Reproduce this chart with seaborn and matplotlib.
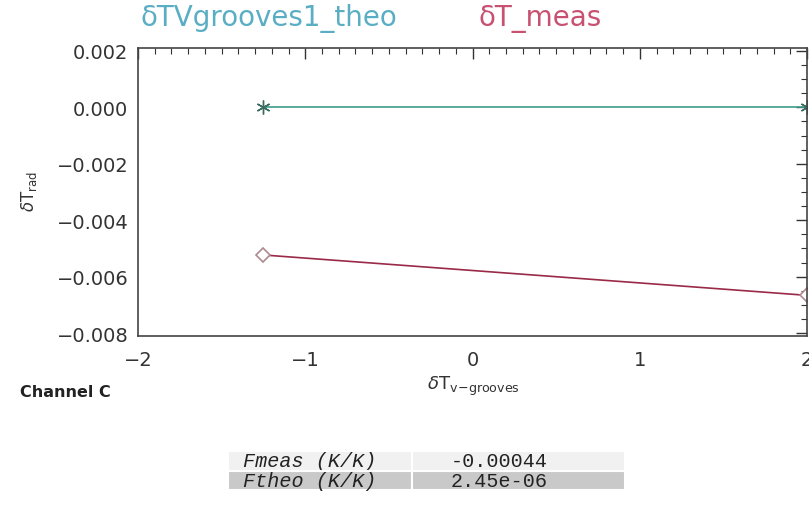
import pandas as pd
import numpy as np
import matplotlib
matplotlib.use("Agg")
import matplotlib.pyplot as plt
import seaborn as sns
from matplotlib.ticker import MultipleLocator

# data
theo_x = [-1.25, 2.0]
theo_y = [0.0, 0.0]
meas_x = [-1.25, 2.0]
meas_y = [-0.00523, -0.00666]

table_labels = ["Fmeas (K/K)", "Ftheo (K/K)"]
table_values = ["-0.00044", "2.45e-06"]

theo_col = "#3f9c8c"
meas_col = "#9a2a48"

sns.set_style("white")
plt.rcParams['font.family'] = ['DejaVu Sans']

df_theo = pd.DataFrame({"x": theo_x, "y": theo_y})
df_meas = pd.DataFrame({"x": meas_x, "y": meas_y})

fig = plt.figure(figsize=(8.09, 5.06), dpi=100)
ax = fig.add_axes([0.1706, 0.334, 0.827, 0.569])

sns.lineplot(x="x", y="y", data=df_theo, ax=ax, color=theo_col, lw=1.2,
             marker=(6, 2, 0), markersize=10, markeredgecolor="#3a6a60",
             markeredgewidth=1.0)
sns.lineplot(x="x", y="y", data=df_meas, ax=ax, color=meas_col, lw=1.2,
             marker="D", markersize=7, markerfacecolor="white",
             markeredgecolor="#b08890", markeredgewidth=1.2)

ax.set_xlim(-2, 2)
ax.set_ylim(-0.0081, 0.0021)
ax.xaxis.set_major_locator(MultipleLocator(1))
ax.xaxis.set_minor_locator(MultipleLocator(0.1))
ax.yaxis.set_major_locator(MultipleLocator(0.002))
ax.yaxis.set_minor_locator(MultipleLocator(0.0005))
ax.yaxis.set_major_formatter(plt.FuncFormatter(lambda v, p: f"{v:.3f}".replace("-", "\u2212")))
ax.xaxis.set_major_formatter(plt.FuncFormatter(lambda v, p: f"{v:.0f}".replace("-", "\u2212")))
ax.tick_params(which="both", direction="in", top=True, right=True, colors="#333333",
               labelsize=14, labelcolor="#333333")
ax.tick_params(which="major", length=8, width=1.0, pad=7)
ax.tick_params(which="minor", length=4, width=0.8)
ax.tick_params(axis="x", which="major", pad=10)
for s in ax.spines.values():
    s.set_color("#444444")
    s.set_linewidth(1.2)
ax.set_xlabel("")
ax.set_ylabel("")

fig.text(0.332, 0.963, "\u03b4TVgrooves1_theo", color="#5aaec4", fontsize=20,
         ha="center", va="center")
fig.text(0.668, 0.963, "\u03b4T_meas", color="#c85070", fontsize=20,
         ha="center", va="center")
fig.text(0.036, 0.622, r"$\delta\mathrm{T}_{\mathrm{rad}}$", rotation=90, fontsize=12,
         ha="center", va="center", color="#333333")
fig.text(0.585, 0.236, r"$\delta\mathrm{T}_{\mathrm{v\!-\!grooves}}$", fontsize=13,
         ha="center", va="center", color="#333333")
fig.text(0.025, 0.224, "Channel C", fontsize=11.5, fontweight="bold",
         ha="left", va="center", color="#222222")

# small results table
tax = fig.add_axes([0.282, 0.030, 0.490, 0.076])
tax.axis("off")
tbl = tax.table(cellText=[[table_labels[0], table_values[0]],
                          [table_labels[1], table_values[1]]],
                cellColours=[["#f1f1f1", "#f1f1f1"], ["#c9c9c9", "#c9c9c9"]],
                colWidths=[0.465, 0.535], cellLoc="left", bbox=[0, 0, 1, 1])
tbl.auto_set_font_size(False)
for (r, c), cell in tbl.get_celld().items():
    cell.set_edgecolor("white")
    cell.set_linewidth(1.5)
    cell.PAD = 0.08 if c == 0 else 0.18
    txt = cell.get_text()
    txt.set_fontsize(14.5)
    txt.set_color("#222222")
    txt.set_fontfamily(["Liberation Mono", "DejaVu Sans Mono"])
    if c == 0:
        txt.set_fontstyle("italic")

fig.savefig("out.png", dpi=100)
